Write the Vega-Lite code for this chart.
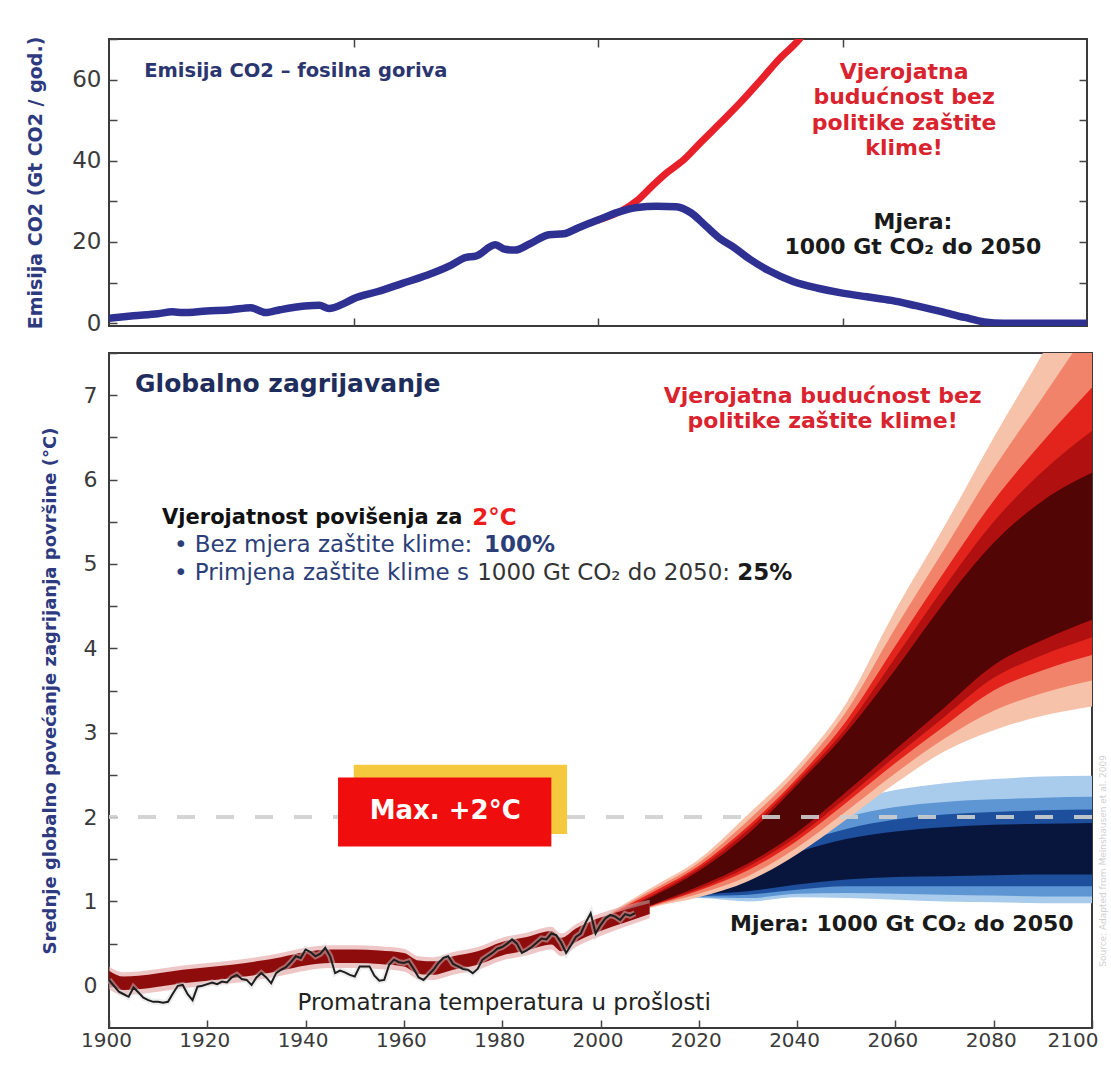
{
  "$schema": "https://vega.github.io/schema/vega-lite/v6.json",
  "background": "white",
  "padding": {"left": 25, "top": 35, "right": 0, "bottom": 0},
  "spacing": 14,
  "config": {
    "view": {"stroke": "#3a3a3a", "strokeWidth": 2},
    "axis": {"grid": false, "domain": false, "tickColor": "#444", "tickWidth": 1.5, "labelFont": "DejaVu Sans", "labelColor": "#3a3a3a", "titleFont": "DejaVu Sans", "labelFlush": false},
    "text": {"font": "DejaVu Sans"}
  },
  "datasets": {
    "co2_blue": [
      {"year": 1900, "value": 1.2}, {"year": 1905, "value": 1.8}, {"year": 1910, "value": 2.3}, {"year": 1913, "value": 2.8}, {"year": 1915, "value": 2.6},
      {"year": 1920, "value": 3.0}, {"year": 1925, "value": 3.3}, {"year": 1929, "value": 3.8}, {"year": 1932, "value": 2.6}, {"year": 1935, "value": 3.3},
      {"year": 1940, "value": 4.2}, {"year": 1943, "value": 4.4}, {"year": 1945, "value": 3.6}, {"year": 1948, "value": 4.8}, {"year": 1950, "value": 6.0},
      {"year": 1955, "value": 7.8}, {"year": 1960, "value": 9.8}, {"year": 1965, "value": 11.8}, {"year": 1970, "value": 14.3}, {"year": 1973, "value": 16.2},
      {"year": 1975, "value": 16.5}, {"year": 1979, "value": 19.3}, {"year": 1981, "value": 18.2}, {"year": 1983, "value": 18.0}, {"year": 1986, "value": 19.5},
      {"year": 1990, "value": 21.8}, {"year": 1993, "value": 22.0}, {"year": 1996, "value": 23.5}, {"year": 2000, "value": 25.4}, {"year": 2004, "value": 27.3},
      {"year": 2008, "value": 28.5}, {"year": 2012, "value": 28.8}, {"year": 2016, "value": 28.7}, {"year": 2019, "value": 27.2}, {"year": 2022, "value": 24.0},
      {"year": 2025, "value": 20.8}, {"year": 2028, "value": 18.5}, {"year": 2031, "value": 15.8}, {"year": 2035, "value": 12.9}, {"year": 2040, "value": 10.2},
      {"year": 2045, "value": 8.6}, {"year": 2050, "value": 7.4}, {"year": 2055, "value": 6.5}, {"year": 2060, "value": 5.6}, {"year": 2065, "value": 4.3},
      {"year": 2070, "value": 2.9}, {"year": 2075, "value": 1.4}, {"year": 2079, "value": 0.3}, {"year": 2083, "value": 0}, {"year": 2100, "value": 0}
    ],
    "co2_red": [
      {"year": 2000, "value": 25.4}, {"year": 2002, "value": 26.2}, {"year": 2005, "value": 27.8}, {"year": 2008, "value": 30.2}, {"year": 2011, "value": 33.7},
      {"year": 2014, "value": 37.0}, {"year": 2017.5, "value": 40.2}, {"year": 2021, "value": 44.5}, {"year": 2025, "value": 49.3}, {"year": 2029, "value": 54.2},
      {"year": 2033, "value": 59.5}, {"year": 2037, "value": 65.0}, {"year": 2041.4, "value": 70.3}, {"year": 2043, "value": 73.0}
    ],
    "top_title": [{"year": 1907.2, "value": 62.2, "text": "Emisija CO2 – fosilna goriva"}],
    "top_red": [
      {"year": 2062.6, "value": 61.9, "text": "Vjerojatna"},
      {"year": 2062.6, "value": 55.8, "text": "budućnost bez"},
      {"year": 2062.6, "value": 49.2, "text": "politike zaštite"},
      {"year": 2062.6, "value": 43.1, "text": "klime!"}
    ],
    "top_black": [
      {"year": 2064.4, "value": 25.0, "text": "Mjera:"},
      {"year": 2064.4, "value": 18.8, "text": "1000 Gt CO₂ do 2050"}
    ],
    "blue1": [
      {"year": 2000, "lo": 0.71, "hi": 0.74}, {"year": 2010, "lo": 0.93, "hi": 0.98}, {"year": 2020, "lo": 1.04, "hi": 1.2}, {"year": 2030, "lo": 1.0, "hi": 1.6},
      {"year": 2040, "lo": 1.05, "hi": 1.95}, {"year": 2050, "lo": 1.04, "hi": 2.18}, {"year": 2060, "lo": 1.02, "hi": 2.32}, {"year": 2070, "lo": 1.0, "hi": 2.4},
      {"year": 2080, "lo": 0.99, "hi": 2.45}, {"year": 2090, "lo": 0.98, "hi": 2.48}, {"year": 2100, "lo": 0.98, "hi": 2.49}
    ],
    "blue2": [
      {"year": 2000, "lo": 0.715, "hi": 0.735}, {"year": 2010, "lo": 0.935, "hi": 0.97}, {"year": 2020, "lo": 1.05, "hi": 1.15}, {"year": 2030, "lo": 1.04, "hi": 1.5},
      {"year": 2040, "lo": 1.09, "hi": 1.8}, {"year": 2050, "lo": 1.1, "hi": 2.0}, {"year": 2060, "lo": 1.09, "hi": 2.12}, {"year": 2070, "lo": 1.08, "hi": 2.18},
      {"year": 2080, "lo": 1.07, "hi": 2.21}, {"year": 2090, "lo": 1.06, "hi": 2.23}, {"year": 2100, "lo": 1.06, "hi": 2.24}
    ],
    "blue3": [
      {"year": 2000, "lo": 0.718, "hi": 0.73}, {"year": 2010, "lo": 0.94, "hi": 0.965}, {"year": 2020, "lo": 1.06, "hi": 1.12}, {"year": 2030, "lo": 1.08, "hi": 1.42},
      {"year": 2040, "lo": 1.14, "hi": 1.68}, {"year": 2050, "lo": 1.18, "hi": 1.86}, {"year": 2060, "lo": 1.18, "hi": 1.97}, {"year": 2070, "lo": 1.18, "hi": 2.03},
      {"year": 2080, "lo": 1.18, "hi": 2.06}, {"year": 2090, "lo": 1.18, "hi": 2.08}, {"year": 2100, "lo": 1.18, "hi": 2.09}
    ],
    "blue4": [
      {"year": 2000, "lo": 0.72, "hi": 0.725}, {"year": 2010, "lo": 0.945, "hi": 0.96}, {"year": 2020, "lo": 1.07, "hi": 1.1}, {"year": 2030, "lo": 1.12, "hi": 1.35},
      {"year": 2040, "lo": 1.2, "hi": 1.58}, {"year": 2050, "lo": 1.26, "hi": 1.74}, {"year": 2060, "lo": 1.29, "hi": 1.83}, {"year": 2070, "lo": 1.3, "hi": 1.88},
      {"year": 2080, "lo": 1.31, "hi": 1.91}, {"year": 2090, "lo": 1.32, "hi": 1.92}, {"year": 2100, "lo": 1.32, "hi": 1.93}
    ],
    "red1": [
      {"year": 2000, "lo": 0.70, "hi": 0.80}, {"year": 2010, "lo": 0.92, "hi": 1.15}, {"year": 2020, "lo": 1.05, "hi": 1.5}, {"year": 2030, "lo": 1.24, "hi": 2.03},
      {"year": 2040, "lo": 1.56, "hi": 2.6}, {"year": 2050, "lo": 1.97, "hi": 3.35}, {"year": 2060, "lo": 2.4, "hi": 4.45}, {"year": 2070, "lo": 2.78, "hi": 5.45},
      {"year": 2080, "lo": 3.03, "hi": 6.5}, {"year": 2090, "lo": 3.2, "hi": 7.5}, {"year": 2100, "lo": 3.31, "hi": 8.6}
    ],
    "red2": [
      {"year": 2000, "lo": 0.712, "hi": 0.79}, {"year": 2010, "lo": 0.93, "hi": 1.12}, {"year": 2020, "lo": 1.09, "hi": 1.46}, {"year": 2030, "lo": 1.3, "hi": 1.96},
      {"year": 2040, "lo": 1.64, "hi": 2.53}, {"year": 2050, "lo": 2.07, "hi": 3.25}, {"year": 2060, "lo": 2.52, "hi": 4.24}, {"year": 2070, "lo": 2.93, "hi": 5.18},
      {"year": 2080, "lo": 3.26, "hi": 6.13}, {"year": 2090, "lo": 3.47, "hi": 6.98}, {"year": 2100, "lo": 3.62, "hi": 7.84}
    ],
    "red3": [
      {"year": 2000, "lo": 0.724, "hi": 0.785}, {"year": 2010, "lo": 0.94, "hi": 1.09}, {"year": 2020, "lo": 1.13, "hi": 1.42}, {"year": 2030, "lo": 1.37, "hi": 1.89},
      {"year": 2040, "lo": 1.72, "hi": 2.46}, {"year": 2050, "lo": 2.17, "hi": 3.14}, {"year": 2060, "lo": 2.64, "hi": 4.03}, {"year": 2070, "lo": 3.08, "hi": 4.91},
      {"year": 2080, "lo": 3.5, "hi": 5.75}, {"year": 2090, "lo": 3.74, "hi": 6.45}, {"year": 2100, "lo": 3.92, "hi": 7.09}
    ],
    "red4": [
      {"year": 2000, "lo": 0.732, "hi": 0.78}, {"year": 2010, "lo": 0.945, "hi": 1.06}, {"year": 2020, "lo": 1.15, "hi": 1.39}, {"year": 2030, "lo": 1.41, "hi": 1.85},
      {"year": 2040, "lo": 1.77, "hi": 2.42}, {"year": 2050, "lo": 2.23, "hi": 3.06}, {"year": 2060, "lo": 2.72, "hi": 3.89}, {"year": 2070, "lo": 3.19, "hi": 4.73},
      {"year": 2080, "lo": 3.65, "hi": 5.5}, {"year": 2090, "lo": 3.92, "hi": 6.1}, {"year": 2100, "lo": 4.13, "hi": 6.58}
    ],
    "red5": [
      {"year": 2000, "lo": 0.74, "hi": 0.775}, {"year": 2010, "lo": 0.95, "hi": 1.04}, {"year": 2020, "lo": 1.18, "hi": 1.36}, {"year": 2030, "lo": 1.45, "hi": 1.8},
      {"year": 2040, "lo": 1.82, "hi": 2.38}, {"year": 2050, "lo": 2.3, "hi": 3.0}, {"year": 2060, "lo": 2.8, "hi": 3.75}, {"year": 2070, "lo": 3.3, "hi": 4.55},
      {"year": 2080, "lo": 3.8, "hi": 5.25}, {"year": 2090, "lo": 4.1, "hi": 5.75}, {"year": 2100, "lo": 4.34, "hi": 6.08}
    ],
    "model": [
      {"year": 1900, "lo": 0.02, "hi": 0.18, "lo2": -0.04, "hi2": 0.23}, {"year": 1903, "lo": -0.05, "hi": 0.11, "lo2": -0.11, "hi2": 0.16},
      {"year": 1906, "lo": -0.04, "hi": 0.12, "lo2": -0.1, "hi2": 0.17}, {"year": 1910, "lo": -0.01, "hi": 0.15, "lo2": -0.07, "hi2": 0.2},
      {"year": 1915, "lo": 0.03, "hi": 0.19, "lo2": -0.03, "hi2": 0.24}, {"year": 1920, "lo": 0.06, "hi": 0.22, "lo2": 0.0, "hi2": 0.27},
      {"year": 1925, "lo": 0.09, "hi": 0.25, "lo2": 0.03, "hi2": 0.3}, {"year": 1930, "lo": 0.13, "hi": 0.29, "lo2": 0.07, "hi2": 0.34},
      {"year": 1935, "lo": 0.18, "hi": 0.34, "lo2": 0.12, "hi2": 0.39}, {"year": 1940, "lo": 0.24, "hi": 0.4, "lo2": 0.18, "hi2": 0.45},
      {"year": 1945, "lo": 0.27, "hi": 0.43, "lo2": 0.21, "hi2": 0.48}, {"year": 1950, "lo": 0.27, "hi": 0.43, "lo2": 0.21, "hi2": 0.48},
      {"year": 1955, "lo": 0.26, "hi": 0.42, "lo2": 0.2, "hi2": 0.47}, {"year": 1960, "lo": 0.23, "hi": 0.39, "lo2": 0.17, "hi2": 0.44},
      {"year": 1963, "lo": 0.14, "hi": 0.3, "lo2": 0.08, "hi2": 0.35}, {"year": 1966, "lo": 0.13, "hi": 0.29, "lo2": 0.07, "hi2": 0.34},
      {"year": 1970, "lo": 0.19, "hi": 0.35, "lo2": 0.13, "hi2": 0.4}, {"year": 1975, "lo": 0.25, "hi": 0.41, "lo2": 0.19, "hi2": 0.46},
      {"year": 1980, "lo": 0.36, "hi": 0.52, "lo2": 0.3, "hi2": 0.57}, {"year": 1985, "lo": 0.42, "hi": 0.58, "lo2": 0.36, "hi2": 0.63},
      {"year": 1990, "lo": 0.49, "hi": 0.65, "lo2": 0.43, "hi2": 0.7}, {"year": 1992, "lo": 0.41, "hi": 0.57, "lo2": 0.35, "hi2": 0.62},
      {"year": 1995, "lo": 0.52, "hi": 0.68, "lo2": 0.46, "hi2": 0.73}, {"year": 2000, "lo": 0.65, "hi": 0.81, "lo2": 0.59, "hi2": 0.86},
      {"year": 2005, "lo": 0.75, "hi": 0.9, "lo2": 0.7, "hi2": 0.95}, {"year": 2010, "lo": 0.85, "hi": 0.98, "lo2": 0.8, "hi2": 1.02}
    ],
    "obs": [
      {"year": 1900, "value": 0.07}, {"year": 1901, "value": 0.0}, {"year": 1902, "value": -0.07}, {"year": 1903, "value": -0.1}, {"year": 1904, "value": -0.13},
      {"year": 1905, "value": -0.02}, {"year": 1906, "value": -0.08}, {"year": 1907, "value": -0.14}, {"year": 1908, "value": -0.17}, {"year": 1909, "value": -0.19},
      {"year": 1910, "value": -0.19}, {"year": 1911, "value": -0.2}, {"year": 1912, "value": -0.19}, {"year": 1913, "value": -0.09}, {"year": 1914, "value": 0.0},
      {"year": 1915, "value": 0.01}, {"year": 1916, "value": -0.1}, {"year": 1917, "value": -0.17}, {"year": 1918, "value": -0.01}, {"year": 1919, "value": 0.0},
      {"year": 1920, "value": 0.02}, {"year": 1921, "value": 0.04}, {"year": 1922, "value": 0.02}, {"year": 1923, "value": 0.05}, {"year": 1924, "value": 0.04},
      {"year": 1925, "value": 0.1}, {"year": 1926, "value": 0.13}, {"year": 1927, "value": 0.08}, {"year": 1928, "value": 0.07}, {"year": 1929, "value": 0.01},
      {"year": 1930, "value": 0.1}, {"year": 1931, "value": 0.15}, {"year": 1932, "value": 0.1}, {"year": 1933, "value": 0.03}, {"year": 1934, "value": 0.15},
      {"year": 1935, "value": 0.19}, {"year": 1936, "value": 0.22}, {"year": 1937, "value": 0.28}, {"year": 1938, "value": 0.35}, {"year": 1939, "value": 0.33},
      {"year": 1940, "value": 0.43}, {"year": 1941, "value": 0.4}, {"year": 1942, "value": 0.35}, {"year": 1943, "value": 0.38}, {"year": 1944, "value": 0.45},
      {"year": 1945, "value": 0.35}, {"year": 1946, "value": 0.15}, {"year": 1947, "value": 0.18}, {"year": 1948, "value": 0.16}, {"year": 1949, "value": 0.13},
      {"year": 1950, "value": 0.11}, {"year": 1951, "value": 0.23}, {"year": 1952, "value": 0.23}, {"year": 1953, "value": 0.23}, {"year": 1954, "value": 0.12},
      {"year": 1955, "value": 0.06}, {"year": 1956, "value": 0.07}, {"year": 1957, "value": 0.25}, {"year": 1958, "value": 0.31}, {"year": 1959, "value": 0.28},
      {"year": 1960, "value": 0.27}, {"year": 1961, "value": 0.29}, {"year": 1962, "value": 0.2}, {"year": 1963, "value": 0.1}, {"year": 1964, "value": 0.07},
      {"year": 1965, "value": 0.13}, {"year": 1966, "value": 0.19}, {"year": 1967, "value": 0.27}, {"year": 1968, "value": 0.33}, {"year": 1969, "value": 0.35},
      {"year": 1970, "value": 0.26}, {"year": 1971, "value": 0.23}, {"year": 1972, "value": 0.2}, {"year": 1973, "value": 0.19}, {"year": 1974, "value": 0.15},
      {"year": 1975, "value": 0.2}, {"year": 1976, "value": 0.31}, {"year": 1977, "value": 0.35}, {"year": 1978, "value": 0.39}, {"year": 1979, "value": 0.44},
      {"year": 1980, "value": 0.46}, {"year": 1981, "value": 0.5}, {"year": 1982, "value": 0.55}, {"year": 1983, "value": 0.5}, {"year": 1984, "value": 0.39},
      {"year": 1985, "value": 0.42}, {"year": 1986, "value": 0.46}, {"year": 1987, "value": 0.51}, {"year": 1988, "value": 0.56}, {"year": 1989, "value": 0.55},
      {"year": 1990, "value": 0.62}, {"year": 1991, "value": 0.6}, {"year": 1992, "value": 0.51}, {"year": 1993, "value": 0.39}, {"year": 1994, "value": 0.48},
      {"year": 1995, "value": 0.58}, {"year": 1996, "value": 0.62}, {"year": 1997, "value": 0.75}, {"year": 1998, "value": 0.86}, {"year": 1999, "value": 0.62},
      {"year": 2000, "value": 0.72}, {"year": 2001, "value": 0.8}, {"year": 2002, "value": 0.84}, {"year": 2003, "value": 0.82}, {"year": 2004, "value": 0.78},
      {"year": 2005, "value": 0.85}, {"year": 2006, "value": 0.83}, {"year": 2007, "value": 0.86}
    ],
    "limit": [{"value": 2}],
    "box_yellow": [{"x1": 1949.8, "x2": 1993.2, "y1": 1.8, "y2": 2.62}],
    "box_red": [{"x1": 1946.6, "x2": 1990.0, "y1": 1.65, "y2": 2.47}],
    "t_title": [{"year": 1905.3, "value": 7.13, "text": "Globalno zagrijavanje"}],
    "t_redhead": [
      {"year": 2045.2, "value": 6.99, "text": "Vjerojatna budućnost bez"},
      {"year": 2045.2, "value": 6.69, "text": "politike zaštite klime!"}
    ],
    "t_prob": [{"year": 1910.8, "value": 5.54, "text": "Vjerojatnost povišenja za"}],
    "t_prob2": [{"year": 1973.9, "value": 5.54, "text": "2°C"}],
    "t_bullets": [
      {"year": 1913.2, "value": 5.22, "text": "•  Bez mjera zaštite klime:"},
      {"year": 1913.2, "value": 4.89, "text": "•  Primjena zaštite klime s"}
    ],
    "t_pct1": [{"year": 1976.3, "value": 5.22, "text": "100%"}],
    "t_gray": [{"year": 1974.9, "value": 4.89, "text": "1000 Gt CO₂ do 2050:"}],
    "t_pct2": [{"year": 2027.8, "value": 4.89, "text": "25%"}],
    "t_max": [{"year": 1968.4, "value": 2.07, "text": "Max. +2°C"}],
    "t_mjera": [{"year": 2061.3, "value": 0.73, "text": "Mjera: 1000 Gt CO₂ do 2050"}],
    "t_obs": [{"year": 1980.4, "value": -0.2, "text": "Promatrana temperatura u prošlosti"}],
    "t_src": [{"year": 2102.2, "value": 1.48, "text": "Source: Adapted from Meinshausen et al. 2009"}]
  },
  "vconcat": [
    {
      "width": 978,
      "height": 287,
      "layer": [
        {
          "data": {"name": "co2_red"},
          "mark": {"type": "line", "color": "#e8202a", "strokeWidth": 7, "clip": true, "interpolate": "monotone"},
          "encoding": {
            "x": {"field": "year", "type": "quantitative", "scale": {"domain": [1900, 2100], "nice": false}, "axis": {"orient": "top", "values": [1950, 2000, 2050], "labels": false, "tickSize": -8, "title": null}},
            "y": {"field": "value", "type": "quantitative", "scale": {"domain": [-0.7, 70], "nice": false, "zero": false}, "axis": {"orient": "right", "values": [10, 20, 30, 40, 50, 60], "labels": false, "tickSize": -8, "title": null}}
          }
        },
        {
          "data": {"name": "co2_blue"},
          "mark": {"type": "line", "color": "#2e3192", "strokeWidth": 7.5, "clip": true, "interpolate": "monotone"},
          "encoding": {
            "x": {"field": "year", "type": "quantitative", "axis": {"orient": "bottom", "values": [1950, 2000, 2050], "labels": false, "tickSize": -8, "title": null}},
            "y": {"field": "value", "type": "quantitative", "axis": {"orient": "left", "values": [0, 10, 20, 30, 40, 50, 60, 70], "labelExpr": "datum.value % 20 == 0 ? datum.label : ''", "tickSize": -8, "labelFontSize": 23, "labelPadding": 16, "title": "Emisija CO2 (Gt CO2 / god.)", "titleFontSize": 19, "titleFontWeight": "bold", "titleColor": "#2e3a80", "titlePadding": 26}}
          }
        },
        {
          "data": {"name": "top_title"},
          "mark": {"type": "text", "align": "left", "baseline": "middle", "fontSize": 19.5, "fontWeight": "bold", "color": "#2b3670"},
          "encoding": {"x": {"field": "year", "type": "quantitative", "axis": null}, "y": {"field": "value", "type": "quantitative", "axis": null}, "text": {"field": "text"}}
        },
        {
          "data": {"name": "top_red"},
          "mark": {"type": "text", "align": "center", "baseline": "middle", "fontSize": 22, "fontWeight": "bold", "color": "#d9232e"},
          "encoding": {"x": {"field": "year", "type": "quantitative", "axis": null}, "y": {"field": "value", "type": "quantitative", "axis": null}, "text": {"field": "text"}}
        },
        {
          "data": {"name": "top_black"},
          "mark": {"type": "text", "align": "center", "baseline": "middle", "fontSize": 22, "fontWeight": "bold", "color": "#1a1a1a"},
          "encoding": {"x": {"field": "year", "type": "quantitative", "axis": null}, "y": {"field": "value", "type": "quantitative", "axis": null}, "text": {"field": "text"}}
        }
      ],
      "resolve": {"axis": {"x": "independent", "y": "independent"}}
    },
    {
      "width": 983,
      "height": 675,
      "layer": [
        {
          "data": {"name": "blue1"},
          "mark": {"type": "area", "color": "#a9cbec", "clip": true, "interpolate": "monotone"},
          "encoding": {
            "x": {"field": "year", "type": "quantitative", "scale": {"domain": [1900, 2100], "nice": false}, "axis": {"values": [1900, 1920, 1940, 1960, 1980, 2000, 2020, 2040, 2060, 2080, 2100], "format": "d", "tickSize": -8, "labelFontSize": 20, "labelPadding": 10, "labelAlign": {"condition": {"test": "datum.value == 2100", "value": "right"}, "value": "center"}, "labelOffset": {"condition": {"test": "datum.value == 2100", "value": 6}, "value": -3}, "title": null}},
            "y": {"field": "lo", "type": "quantitative", "scale": {"domain": [-0.5, 7.5], "nice": false, "zero": false}, "axis": {"values": [0, 0.5, 1, 1.5, 2, 2.5, 3, 3.5, 4, 4.5, 5, 5.5, 6, 6.5, 7, 7.5], "labelExpr": "datum.value % 1 == 0 ? format(datum.value, 'd') : ''", "tickSize": -8, "labelFontSize": 22, "labelPadding": 20, "title": "Srednje globalno povećanje zagrijanja površine (°C)", "titleFontSize": 18, "titleFontWeight": "bold", "titleColor": "#2e3a80", "titlePadding": 24}},
            "y2": {"field": "hi"}
          }
        },
        {"data": {"name": "blue2"}, "mark": {"type": "area", "color": "#5d96d3", "clip": true, "interpolate": "monotone"},
         "encoding": {"x": {"field": "year", "type": "quantitative", "axis": null}, "y": {"field": "lo", "type": "quantitative", "axis": null}, "y2": {"field": "hi"}}},
        {"data": {"name": "blue3"}, "mark": {"type": "area", "color": "#1d4f9c", "clip": true, "interpolate": "monotone"},
         "encoding": {"x": {"field": "year", "type": "quantitative", "axis": null}, "y": {"field": "lo", "type": "quantitative", "axis": null}, "y2": {"field": "hi"}}},
        {"data": {"name": "blue4"}, "mark": {"type": "area", "color": "#08163d", "clip": true, "interpolate": "monotone"},
         "encoding": {"x": {"field": "year", "type": "quantitative", "axis": null}, "y": {"field": "lo", "type": "quantitative", "axis": null}, "y2": {"field": "hi"}}},
        {"data": {"name": "red1"}, "mark": {"type": "area", "color": "#f7c2aa", "clip": true, "interpolate": "monotone"},
         "encoding": {"x": {"field": "year", "type": "quantitative", "axis": null}, "y": {"field": "lo", "type": "quantitative", "axis": null}, "y2": {"field": "hi"}}},
        {"data": {"name": "red2"}, "mark": {"type": "area", "color": "#f2836b", "clip": true, "interpolate": "monotone"},
         "encoding": {"x": {"field": "year", "type": "quantitative", "axis": null}, "y": {"field": "lo", "type": "quantitative", "axis": null}, "y2": {"field": "hi"}}},
        {"data": {"name": "red3"}, "mark": {"type": "area", "color": "#e2241c", "clip": true, "interpolate": "monotone"},
         "encoding": {"x": {"field": "year", "type": "quantitative", "axis": null}, "y": {"field": "lo", "type": "quantitative", "axis": null}, "y2": {"field": "hi"}}},
        {"data": {"name": "red4"}, "mark": {"type": "area", "color": "#b0100f", "clip": true, "interpolate": "monotone"},
         "encoding": {"x": {"field": "year", "type": "quantitative", "axis": null}, "y": {"field": "lo", "type": "quantitative", "axis": null}, "y2": {"field": "hi"}}},
        {"data": {"name": "red5"}, "mark": {"type": "area", "color": "#520505", "clip": true, "interpolate": "monotone"},
         "encoding": {"x": {"field": "year", "type": "quantitative", "axis": null}, "y": {"field": "lo", "type": "quantitative", "axis": null}, "y2": {"field": "hi"}}},
        {"data": {"name": "model"}, "mark": {"type": "area", "color": "#e3a0a0", "opacity": 0.6, "interpolate": "monotone"},
         "encoding": {"x": {"field": "year", "type": "quantitative", "axis": null}, "y": {"field": "lo2", "type": "quantitative", "axis": null}, "y2": {"field": "hi2"}}},
        {"data": {"name": "model"}, "mark": {"type": "area", "color": "#8e0c0c", "interpolate": "monotone"},
         "encoding": {"x": {"field": "year", "type": "quantitative", "axis": null}, "y": {"field": "lo", "type": "quantitative", "axis": null}, "y2": {"field": "hi"}}},
        {"data": {"name": "obs"}, "mark": {"type": "line", "color": "#d6d6d6", "strokeWidth": 6, "opacity": 0.45},
         "encoding": {"x": {"field": "year", "type": "quantitative", "axis": null}, "y": {"field": "value", "type": "quantitative", "axis": null}}},
        {"data": {"name": "obs"}, "mark": {"type": "line", "color": "#1e1e1e", "strokeWidth": 2},
         "encoding": {"x": {"field": "year", "type": "quantitative", "axis": null}, "y": {"field": "value", "type": "quantitative", "axis": null}}},
        {"data": {"name": "limit"}, "mark": {"type": "rule", "color": "#cfcfcf", "strokeWidth": 4, "strokeDash": [18, 21], "opacity": 0.9},
         "encoding": {"y": {"field": "value", "type": "quantitative", "axis": null}}},
        {"data": {"name": "box_yellow"}, "mark": {"type": "rect", "color": "#f5c93e"},
         "encoding": {"x": {"field": "x1", "type": "quantitative", "axis": null}, "x2": {"field": "x2"}, "y": {"field": "y1", "type": "quantitative", "axis": null}, "y2": {"field": "y2"}}},
        {"data": {"name": "box_red"}, "mark": {"type": "rect", "color": "#f00d0d"},
         "encoding": {"x": {"field": "x1", "type": "quantitative", "axis": null}, "x2": {"field": "x2"}, "y": {"field": "y1", "type": "quantitative", "axis": null}, "y2": {"field": "y2"}}},
        {"data": {"name": "t_title"}, "mark": {"type": "text", "align": "left", "baseline": "middle", "fontSize": 25, "fontWeight": "bold", "color": "#1f2d5c"},
         "encoding": {"x": {"field": "year", "type": "quantitative", "axis": null}, "y": {"field": "value", "type": "quantitative", "axis": null}, "text": {"field": "text"}}},
        {"data": {"name": "t_redhead"}, "mark": {"type": "text", "align": "center", "baseline": "middle", "fontSize": 22, "fontWeight": "bold", "color": "#d9232e"},
         "encoding": {"x": {"field": "year", "type": "quantitative", "axis": null}, "y": {"field": "value", "type": "quantitative", "axis": null}, "text": {"field": "text"}}},
        {"data": {"name": "t_prob"}, "mark": {"type": "text", "align": "left", "baseline": "middle", "fontSize": 21, "fontWeight": "bold", "color": "#111111"},
         "encoding": {"x": {"field": "year", "type": "quantitative", "axis": null}, "y": {"field": "value", "type": "quantitative", "axis": null}, "text": {"field": "text"}}},
        {"data": {"name": "t_prob2"}, "mark": {"type": "text", "align": "left", "baseline": "middle", "fontSize": 23, "fontWeight": "bold", "color": "#ee1c1c"},
         "encoding": {"x": {"field": "year", "type": "quantitative", "axis": null}, "y": {"field": "value", "type": "quantitative", "axis": null}, "text": {"field": "text"}}},
        {"data": {"name": "t_bullets"}, "mark": {"type": "text", "align": "left", "baseline": "middle", "fontSize": 23, "color": "#2c3e78"},
         "encoding": {"x": {"field": "year", "type": "quantitative", "axis": null}, "y": {"field": "value", "type": "quantitative", "axis": null}, "text": {"field": "text"}}},
        {"data": {"name": "t_pct1"}, "mark": {"type": "text", "align": "left", "baseline": "middle", "fontSize": 23, "fontWeight": "bold", "color": "#2c3e78"},
         "encoding": {"x": {"field": "year", "type": "quantitative", "axis": null}, "y": {"field": "value", "type": "quantitative", "axis": null}, "text": {"field": "text"}}},
        {"data": {"name": "t_gray"}, "mark": {"type": "text", "align": "left", "baseline": "middle", "fontSize": 23, "color": "#333333"},
         "encoding": {"x": {"field": "year", "type": "quantitative", "axis": null}, "y": {"field": "value", "type": "quantitative", "axis": null}, "text": {"field": "text"}}},
        {"data": {"name": "t_pct2"}, "mark": {"type": "text", "align": "left", "baseline": "middle", "fontSize": 23, "fontWeight": "bold", "color": "#1a1a1a"},
         "encoding": {"x": {"field": "year", "type": "quantitative", "axis": null}, "y": {"field": "value", "type": "quantitative", "axis": null}, "text": {"field": "text"}}},
        {"data": {"name": "t_max"}, "mark": {"type": "text", "align": "center", "baseline": "middle", "fontSize": 26, "fontWeight": "bold", "color": "#ffffff"},
         "encoding": {"x": {"field": "year", "type": "quantitative", "axis": null}, "y": {"field": "value", "type": "quantitative", "axis": null}, "text": {"field": "text"}}},
        {"data": {"name": "t_mjera"}, "mark": {"type": "text", "align": "center", "baseline": "middle", "fontSize": 22, "fontWeight": "bold", "color": "#1a1a1a"},
         "encoding": {"x": {"field": "year", "type": "quantitative", "axis": null}, "y": {"field": "value", "type": "quantitative", "axis": null}, "text": {"field": "text"}}},
        {"data": {"name": "t_obs"}, "mark": {"type": "text", "align": "center", "baseline": "middle", "fontSize": 23, "color": "#222222"},
         "encoding": {"x": {"field": "year", "type": "quantitative", "axis": null}, "y": {"field": "value", "type": "quantitative", "axis": null}, "text": {"field": "text"}}},
        {"data": {"name": "t_src"}, "mark": {"type": "text", "align": "center", "baseline": "middle", "fontSize": 9, "angle": 270, "color": "#d0d0d0"},
         "encoding": {"x": {"field": "year", "type": "quantitative", "axis": null}, "y": {"field": "value", "type": "quantitative", "axis": null}, "text": {"field": "text"}}}
      ],
      "resolve": {"axis": {"x": "independent", "y": "independent"}}
    }
  ]
}
